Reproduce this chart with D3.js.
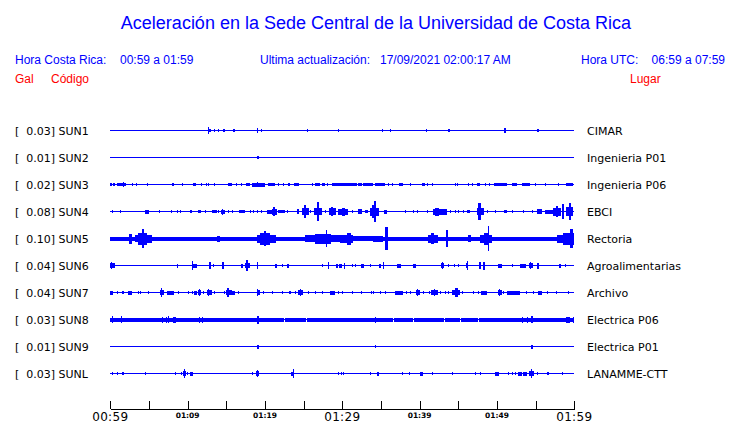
<!DOCTYPE html>
<html><head><meta charset="utf-8">
<script src="https://cdn.jsdelivr.net/npm/d3@7"></script>
<style>html,body{margin:0;padding:0;background:#fff;}svg{display:block;}</style>
</head><body>
<script>
// ---------- data ----------
const stations = ["SUN1","SUN2","SUN3","SUN4","SUN5","SUN6","SUN7","SUN8","SUN9","SUNL"];
const peakGal = ["0.03","0.01","0.02","0.08","0.10","0.04","0.04","0.03","0.01","0.03"];
const places = ["CIMAR","Ingenieria P01","Ingenieria P06","EBCI","Rectoria","Agroalimentarias","Archivo","Electrica P06","Electrica P01","LANAMME-CTT"];
const tickMinutes = [0,5,10,15,20,25,30,35,40,45,50,55,60];
const labelMinutes = [0,10,20,30,40,50,60];
const tickLabels = ["00:59","01:09","01:19","01:29","01:39","01:49","01:59"];
const majorLabels = ["00:59","01:29","01:59"];

// each trace: [start minute, end minute, relative amplitude]
const sun1 = [[12.6,12.77,3.3],[12.77,13.0,1],[13.45,13.5,1.3],[13.97,14.0,1],[14.53,14.83,1.3],[15.87,16.13,1.3],[18.93,19.14,2.3],[19.49,19.5,1],[25.48,25.5,1],[29.48,29.5,1.3],[35.17,35.2,1.3],[36.17,36.2,0.7],[40.79,40.8,1.3],[43.71,43.93,1.3],[50.91,51.13,2],[55.14,55.16,1.3],[55.35,55.37,1.3]];
const sun2 = [[18.97,19.19,1.3]];
const sun3 = [[0,0.26,1.3],[0.39,0.61,1.3],[0.83,1.25,1.3],[1.25,1.99,1.3],[1.6,1.7,2],[2.77,2.77,1.3],[3.32,3.32,1.3],[4.78,4.78,1],[7.94,8.2,1.3],[9.23,9.23,1.3],[10.66,11.04,1.3],[11.69,11.69,1.3],[12.38,12.38,1.3],[12.67,12.67,1.3],[13.37,13.5,1.3],[15.18,15.78,1.3],[16.21,16.21,1.3],[16.86,16.86,1],[17.51,18.1,1.3],[18.29,20.0,1.5],[18.93,19.14,2.3],[20.35,21.3,1.3],[21.73,21.73,1.3],[22.29,22.29,1.3],[23.02,23.24,1.3],[23.76,24.44,1.3],[26.04,26.04,1.3],[26.47,27.12,1.3],[27.34,27.76,1.3],[28.06,28.06,1.3],[28.63,30.35,1.3],[29.7,31.86,1.3],[32.07,32.51,1.3],[32.72,34.01,1.3],[34.23,35.52,1.3],[35.95,35.95,1.3],[36.47,36.47,1],[37.33,37.89,1.3],[38.76,38.76,1.3],[40.35,40.7,1.3],[40.91,40.91,1],[41.56,41.56,1],[44.58,44.58,1],[44.79,44.79,1],[46.3,46.3,1.3],[46.81,46.81,1.3],[47.38,47.81,1.3],[48.45,48.45,1.3],[49.01,49.01,1.3],[49.66,51.26,1.3],[51.91,52.55,1.3],[53.2,54.27,1.3],[54.92,54.92,1.3],[56.21,56.21,1.3],[57.93,57.93,1.3],[58.93,59.79,1.3]];
const sun4 = [[0.18,0.18,1],[1.25,1.25,1],[4.49,5.0,1.5],[6.34,6.34,1],[7.81,7.81,1],[8.59,8.59,1.3],[9.01,9.01,1.3],[10.31,10.6,1.3],[11.3,11.69,1.3],[12.25,12.25,1],[13.11,13.11,1.3],[13.32,13.76,1.3],[13.97,13.97,1.3],[14.32,14.83,1.5],[14.5,14.6,2.5],[15.18,15.18,1.3],[15.7,15.7,1.3],[16.64,17.42,1.3],[18.07,18.07,1.3],[18.49,18.49,1.3],[18.93,19.14,1.3],[19.49,19.49,1],[20.3,20.87,1.5],[20.87,21.52,2.5],[21.1,21.3,4],[21.73,22.59,1.3],[22.81,22.81,1.3],[24.1,24.4,2],[24.75,25.7,3],[25.05,25.3,6],[25.82,25.82,1.3],[26.38,27.41,3],[26.75,27.0,9],[27.76,27.76,1.3],[28.32,29.15,3],[28.6,28.8,4],[29.48,30.78,2.5],[29.9,30.3,3.5],[31.22,31.22,1.3],[32.07,32.51,2],[32.94,33.36,1.3],[33.58,34.79,3.5],[33.9,34.4,6],[34.1,34.3,10],[35.43,35.82,1.5],[38.11,38.11,1],[39.1,39.1,1],[39.7,39.7,1],[40.91,40.91,1.3],[41.77,43.58,2.5],[42.0,42.5,3.5],[43.93,43.93,1.3],[44.58,44.58,1.3],[45.0,45.0,1.3],[45.65,45.65,1.3],[46.09,46.51,1.3],[47.38,48.33,3],[47.6,47.95,8],[48.67,48.67,1.3],[49.75,49.75,1],[50.95,51.26,1.3],[51.91,51.91,1],[53.41,53.41,1],[54.49,54.49,1],[55.14,55.86,1.7],[56.21,57.29,1.5],[57.29,58.24,3.5],[57.6,57.9,5],[58.37,58.67,7],[58.93,59.87,4],[59.35,59.6,8]];
const sun5 = [[0,31.4,1.5],[31.4,35.3,2],[35.3,60,1.5],[2.42,2.77,4.5],[3.19,3.62,3],[3.62,4.7,5.5],[4.06,4.4,9],[4.7,5.35,3.5],[13.8,14.2,2.5],[18.93,21.39,3.5],[19.3,20.6,5.5],[19.9,20.1,7],[25.18,30.35,3],[26.5,28.5,4.5],[27.9,28.05,8],[29.7,31.42,3.5],[30.6,31.1,5.5],[34.0,35.3,2.5],[35.52,35.95,11],[41.12,42.41,3.5],[41.5,41.9,5],[43.41,43.71,8],[46.3,46.6,3],[47.81,49.32,3.5],[48.3,48.9,5.5],[48.8,48.95,12],[57.72,60,3.5],[58.5,59.9,5.5],[59.5,59.8,9]];
const sun6 = [[0,0.61,2],[0.1,0.2,3],[8.6,8.8,1.5],[10.6,10.7,4],[10.7,11.17,1.5],[12.8,13.02,3],[13.32,13.32,1.3],[14.48,14.7,3],[16.9,17.12,1.5],[17.42,18.1,2],[17.6,17.8,5],[18.97,19.14,3],[21.3,21.52,1.5],[22.24,22.24,1.3],[22.81,23.11,1.5],[27.34,27.34,1.3],[28.11,28.32,3],[29.19,29.48,1.5],[29.61,30.0,1.5],[30.22,30.39,2.5],[31.22,31.22,1.3],[31.64,31.64,1.3],[32.42,32.81,1.5],[33.58,33.58,1.3],[34.79,35.01,1.5],[35.22,35.43,3],[37.11,37.59,1.5],[39.18,39.49,1.5],[42.73,43.15,2],[42.85,43.0,3],[43.71,43.71,1.3],[44.48,44.48,1.3],[45.0,45.0,1.3],[46.0,46.3,2],[46.1,46.2,4],[47.72,47.94,3],[48.15,48.45,3.5],[50.17,50.69,1.5],[51.98,51.98,1.3],[52.98,53.72,1.5],[54.14,54.62,2],[54.3,54.45,3],[55.22,55.4,2.5],[58.06,58.28,1.5],[58.8,58.8,1.3]];
const sun7 = [[0,0.31,1.5],[0.83,0.83,1],[1.55,1.77,1],[2.33,2.85,1.5],[3.54,3.54,1],[3.84,3.84,1],[4.84,4.84,1],[6.43,6.98,2],[6.55,6.7,4],[7.29,8.24,1.5],[8.72,8.72,1],[10.01,10.01,1],[10.53,10.53,1],[10.82,11.25,1.5],[11.38,11.69,2],[11.45,11.55,3],[12.03,12.03,1],[12.47,13.11,2],[12.6,12.8,3],[13.41,13.41,1],[14.74,14.74,1],[14.92,15.7,2],[15.1,15.3,4],[15.78,16.13,1.5],[16.55,16.55,1],[18.93,19.4,2],[19.0,19.1,3],[19.79,19.79,1],[20.87,20.87,1],[22.16,22.16,1],[23.15,23.37,1],[23.88,23.88,1],[24.31,24.96,2],[24.5,24.65,3],[25.6,25.6,1],[26.47,26.47,1],[27.42,27.42,1],[28.41,29.06,1.5],[29.48,29.48,1],[29.92,29.92,1],[31.22,31.22,1],[32.38,32.38,1],[33.67,33.67,1],[34.01,34.01,1],[34.88,34.88,1],[35.52,35.52,1],[36.82,37.81,1.5],[38.24,38.24,1],[38.76,38.76,1],[39.49,40.05,2],[39.7,39.85,3],[40.48,40.48,1],[41.25,41.25,1],[41.47,42.41,2],[41.8,42.0,3],[42.64,42.64,1],[43.28,43.28,1],[43.71,43.71,1],[44.15,45.22,2],[44.6,44.9,4],[45.44,45.44,1],[46.86,46.86,1],[47.59,47.59,1],[47.9,48.67,1.5],[50.17,50.61,2],[50.3,50.45,3],[50.82,50.82,1],[51.26,52.98,1.5],[53.76,53.76,1],[54.7,54.7,1],[55.35,55.79,1.5],[56.43,56.43,1],[57.64,57.64,1],[59.23,59.23,1]];
const sun8 = [[0,21.25,1.5],[21.35,22.45,1.5],[22.55,25.35,1.5],[25.45,36.55,1.5],[36.65,39.13,1.5],[39.23,41.16,1.5],[41.26,43.14,1.5],[43.24,45.26,1.5],[45.36,47.54,1.5],[47.64,60,1.5],[0.18,0.39,3],[1.38,1.55,3],[6.72,6.72,2.5],[7.2,7.2,2.5],[7.5,7.5,3],[8.07,8.46,2.5],[11.51,11.51,2.5],[11.82,11.82,2.5],[18.93,19.23,3.5],[34.23,34.23,2.5],[53.2,53.2,2.5],[53.85,54.05,2.5],[54.36,54.62,3],[58.93,59.45,2.5],[59.87,59.87,2.5]];
const sun9 = [[18.97,19.19,1.5],[34.23,34.23,1],[54.36,54.62,1.5]];
const sunL = [[0.18,0.18,1],[0.83,0.83,1],[1.55,1.73,1.3],[4.49,4.49,1],[8.37,8.37,1],[9.14,9.14,1],[9.36,9.79,2],[9.5,9.6,4],[9.88,9.88,1.3],[10.31,10.66,1.5],[18.29,18.29,1],[18.8,19.27,2],[18.95,19.1,3],[23.33,23.79,1.5],[23.62,23.72,4],[29.48,29.48,1],[29.83,29.83,1],[30.13,30.13,1],[33.58,33.58,1],[34.53,34.79,1.5],[37.68,37.68,1],[38.67,38.67,1],[40.05,40.4,1.5],[41.56,41.56,1],[44.15,44.15,1],[47.16,47.16,1],[47.81,47.81,1],[49.75,50.27,1.5],[51.47,51.47,1],[51.91,51.91,1],[52.33,52.33,1],[52.76,53.2,1.5],[53.33,53.85,1.5],[54.18,54.79,2],[54.4,54.55,4],[55.14,55.14,1],[56.43,56.69,1.3],[58.37,58.37,1]];
const traces = [sun1,sun2,sun3,sun4,sun5,sun6,sun7,sun8,sun9,sunL];

// ---------- drawing ----------
const W = 740, H = 423;
const svg = d3.select("body").append("svg").attr("width", W).attr("height", H);
const blue = "#0000ff", red = "#ff0000";

const x = d3.scaleLinear().domain([0, 60]).range([110.3, 574.3]);
const lane = d3.scalePoint().domain(stations).range([130, 373]);
const amp = d3.scaleLinear().domain([0, 1]).range([0, 1]);

// header
svg.append("text").attr("x", 376).attr("y", 29).attr("text-anchor", "middle")
  .attr("font-family", "Liberation Sans, Arial, sans-serif").attr("font-size", 18).attr("fill", blue)
  .text("Aceleración en la Sede Central de la Universidad de Costa Rica");
const hdr = [
  [15, 64, "Hora Costa Rica:", blue, "start"], [120, 64, "00:59 a 01:59", blue, "start"],
  [260, 64, "Ultima actualización:", blue, "start"], [380, 64, "17/09/2021 02:00:17 AM", blue, "start"],
  [581, 64, "Hora UTC:", blue, "start"], [725, 64, "06:59 a 07:59", blue, "end"],
  [15, 83, "Gal", red, "start"], [51, 83, "Código", red, "start"], [630, 83, "Lugar", red, "start"]
];
svg.append("g").selectAll("text").data(hdr).join("text")
  .attr("x", d => d[0]).attr("y", d => d[1]).attr("fill", d => d[3]).attr("text-anchor", d => d[4])
  .attr("font-family", "Liberation Sans, Arial, sans-serif").attr("font-size", 12)
  .text(d => d[2]);

// station labels
const lab = svg.append("g").attr("font-family", "DejaVu Sans, sans-serif").attr("font-size", 11).attr("fill", "#000");
lab.selectAll("text.l").data(stations).join("text").attr("class", "l")
  .attr("x", 15).attr("y", d => lane(d) + 4.5).style("white-space", "pre")
  .text((d, i) => "[  " + peakGal[i] + "] " + d);
lab.selectAll("text.r").data(stations).join("text").attr("class", "r")
  .attr("x", 587).attr("y", d => lane(d) + 4.5)
  .text((d, i) => places[i]);

// traces
const tg = svg.append("g").attr("fill", blue).attr("shape-rendering", "crispEdges");
stations.forEach((s, i) => {
  const yc = lane(s);
  const g = tg.append("g");
  g.append("rect").attr("x", x(0)).attr("width", x(60) - x(0)).attr("y", yc).attr("height", 1);
  g.selectAll("rect.e").data(traces[i]).join("rect").attr("class", "e")
    .attr("x", d => x(d[0]))
    .attr("width", d => Math.max(1, x(d[1]) - x(d[0])))
    .attr("y", d => yc - amp(d[2]))
    .attr("height", d => 2 * amp(d[2]) + 1);
});

// time axis
const axisY = 409;
const ax = svg.append("g").attr("transform", `translate(0,${axisY})`)
  .call(d3.axisTop(x).tickValues(tickMinutes).tickSize(8).tickSizeOuter(0).tickFormat(""));
ax.select(".domain").attr("stroke", "#000").attr("shape-rendering", "crispEdges");
ax.selectAll(".tick line").attr("stroke", "#000").attr("shape-rendering", "crispEdges");
svg.append("g").selectAll("text").data(labelMinutes).join("text")
  .attr("x", d => x(d)).attr("text-anchor", "middle")
  .attr("y", (d, i) => majorLabels.includes(tickLabels[i]) ? 421 : 417.5)
  .attr("font-family", "DejaVu Sans, sans-serif")
  .attr("font-size", (d, i) => majorLabels.includes(tickLabels[i]) ? 12 : 7.5)
  .attr("font-weight", (d, i) => majorLabels.includes(tickLabels[i]) ? "normal" : "bold")
  .attr("letter-spacing", (d, i) => majorLabels.includes(tickLabels[i]) ? 0.3 : 0)
  .text((d, i) => tickLabels[i]);
</script>
</body></html>
